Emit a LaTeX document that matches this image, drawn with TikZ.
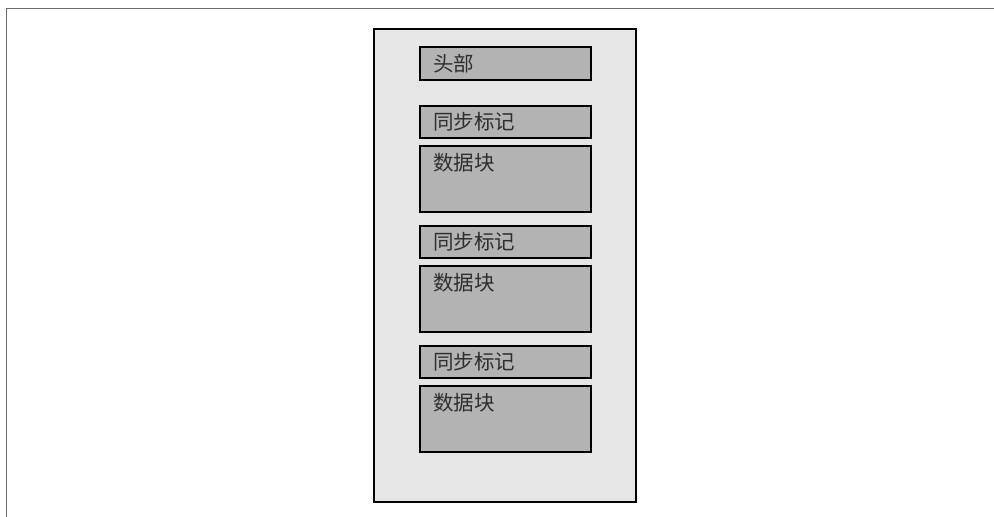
\documentclass[tikz,border=0pt]{standalone}
\usepackage{fontspec}
\newfontfamily\cjk{Noto Sans CJK SC}
\definecolor{outerfill}{HTML}{E6E6E6}
\definecolor{boxfill}{HTML}{B3B3B3}
\definecolor{framegray}{HTML}{6E6E6E}
\definecolor{textgray}{HTML}{2E2E2E}
\begin{document}
\begin{tikzpicture}[x=1pt,y=-1pt,
  outerbox/.style={draw=black, line width=2.2pt, fill=outerfill, minimum width=262pt, minimum height=473pt, inner sep=0pt, outer sep=0pt},
  blk/.style={draw=black, line width=2pt, fill=boxfill, minimum width=171pt, inner sep=0pt, outer sep=0pt},
  syncbox/.style={blk, minimum height=32pt},
  databox/.style={blk, minimum height=66pt},
  lbl/.style={font=\cjk\fontsize{20.5}{20.5}\selectfont, text=textgray, anchor=west, inner sep=0pt}]
\useasboundingbox (0,0) rectangle (994,517);
\fill[white] (0,0) rectangle (994,517);
\draw[framegray, line width=1.6pt] (6.5,517) -- (6.5,8.5) -- (994,8.5);
\node[outerbox] (frame) at (505,265.5) {};
\node[syncbox, minimum height=33pt] (head) at (505.5,63.5) {};
\node[lbl] (headt) at ([shift={(13,16.5)}]head.north west) {头部};
\foreach \i/\y in {1/0,2/120,3/240}{
  \node[syncbox] (sync\i) at (505.5,122+\y) {};
  \node[lbl] (synct\i) at ([shift={(13,16)}]sync\i.north west) {同步标记};
  \node[databox] (data\i) at (505.5,179+\y) {};
  \node[lbl] (datat\i) at ([shift={(13,17)}]data\i.north west) {数据块};
}
\end{tikzpicture}
\end{document}
